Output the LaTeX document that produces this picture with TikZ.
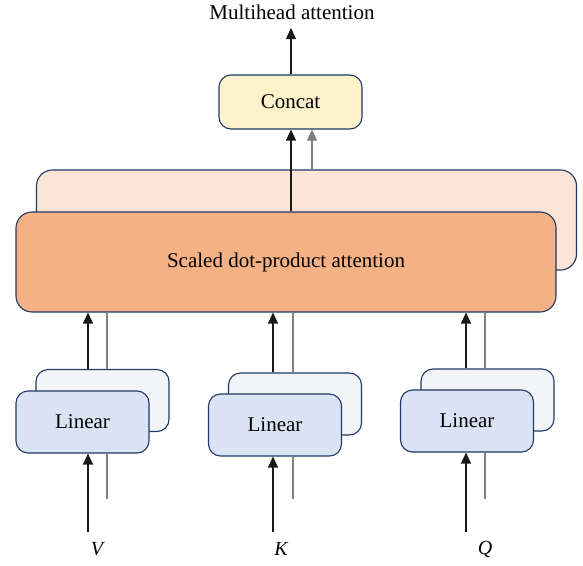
\documentclass[tikz,border=0pt]{standalone}
\usepackage{fontspec}
\setmainfont{Liberation Serif}
\usetikzlibrary{arrows.meta}
\definecolor{navy}{HTML}{1F3864}
\definecolor{concatfill}{HTML}{FEF2CC}
\definecolor{sdpafront}{HTML}{F4B183}
\definecolor{sdpaback}{HTML}{FBE5D6}
\definecolor{linfront}{HTML}{DAE3F3}
\definecolor{linback}{HTML}{F3F4F6}
\definecolor{gline}{HTML}{7F7F7F}
\tikzset{
  box/.style={draw=navy, line width=1.1pt, inner sep=0pt, font=\fontsize{21}{24}\selectfont},
  bigbox/.style={box, rounded corners=16pt, minimum width=540pt, minimum height=100pt},
  linbox/.style={box, rounded corners=12pt, minimum width=133pt, minimum height=62pt},
  arr/.style={-{Triangle[length=11pt,width=10pt]}, line width=1.2pt, black!90},
  grayarr/.style={-{Triangle[length=11pt,width=10pt]}, line width=1.2pt, gline},
  grayline/.style={line width=1.1pt, gline},
  lbl/.style={font=\fontsize{20}{24}\selectfont\itshape, inner sep=0pt}
}
\begin{document}
\begin{tikzpicture}[x=1pt, y=-1pt]
\useasboundingbox (0,0) rectangle (583,565);

% scaled dot-product attention (two heads)
\node[bigbox, fill=sdpaback](sdpa2) at (306.5,220){};
\node[bigbox, fill=sdpafront](sdpa) at (286,262){Scaled dot-product attention};

\node[box, fill=concatfill, rounded corners=12pt, minimum width=143pt, minimum height=54pt](concat) at (290.5,102){Concat};
\node[font=\fontsize{21}{24}\selectfont, inner sep=0pt](title) at (292,12){Multihead attention};
\coordinate (out) at (291,28);

% linear layers
\node[linbox, fill=linback](lv2) at (102.5,400.5){};
\node[linbox, fill=linfront](lv) at (82.5,422){Linear};
\node[linbox, fill=linback](lk2) at (295,404){};
\node[linbox, fill=linfront](lk) at (275,425){Linear};
\node[linbox, fill=linback](lq2) at (487.5,400){};
\node[linbox, fill=linfront](lq) at (467,421){Linear};

% inputs
\node[lbl](v) at (97,549){V};
\node[lbl](k) at (281,549){K};
\node[lbl](q) at (485,549){Q};
\coordinate (vin) at (88,532);
\coordinate (kin) at (273,532);
\coordinate (qin) at (466,532);
\coordinate (vg) at (107,499);
\coordinate (kg) at (293,499);
\coordinate (qg) at (485,499);

\draw[arr] (vin) -- (vin |- lv.south);
\draw[arr] (kin) -- (kin |- lk.south);
\draw[arr] (qin) -- (qin |- lq.south);
\draw[grayline] (vg) -- (vg |- lv.south);
\draw[grayline] (kg) -- (kg |- lk.south);
\draw[grayline] (qg) -- (qg |- lq.south);

\draw[arr] (vin |- lv2.north) -- (vin |- sdpa.south);
\draw[arr] (kin |- lk2.north) -- (kin |- sdpa.south);
\draw[arr] (qin |- lq2.north) -- (qin |- sdpa.south);
\draw[grayline] (vg |- lv2.north) -- (vg |- sdpa.south);
\draw[grayline] (kg |- lk2.north) -- (kg |- sdpa.south);
\draw[grayline] (qg |- lq2.north) -- (qg |- sdpa.south);

% to concat
\draw[arr] (out |- sdpa.north) -- (out |- concat.south);
\draw[grayarr] (312,0 |- sdpa2.north) -- (312,0 |- concat.south);
\draw[arr] (concat.north -| out) -- (out);
\end{tikzpicture}
\end{document}
